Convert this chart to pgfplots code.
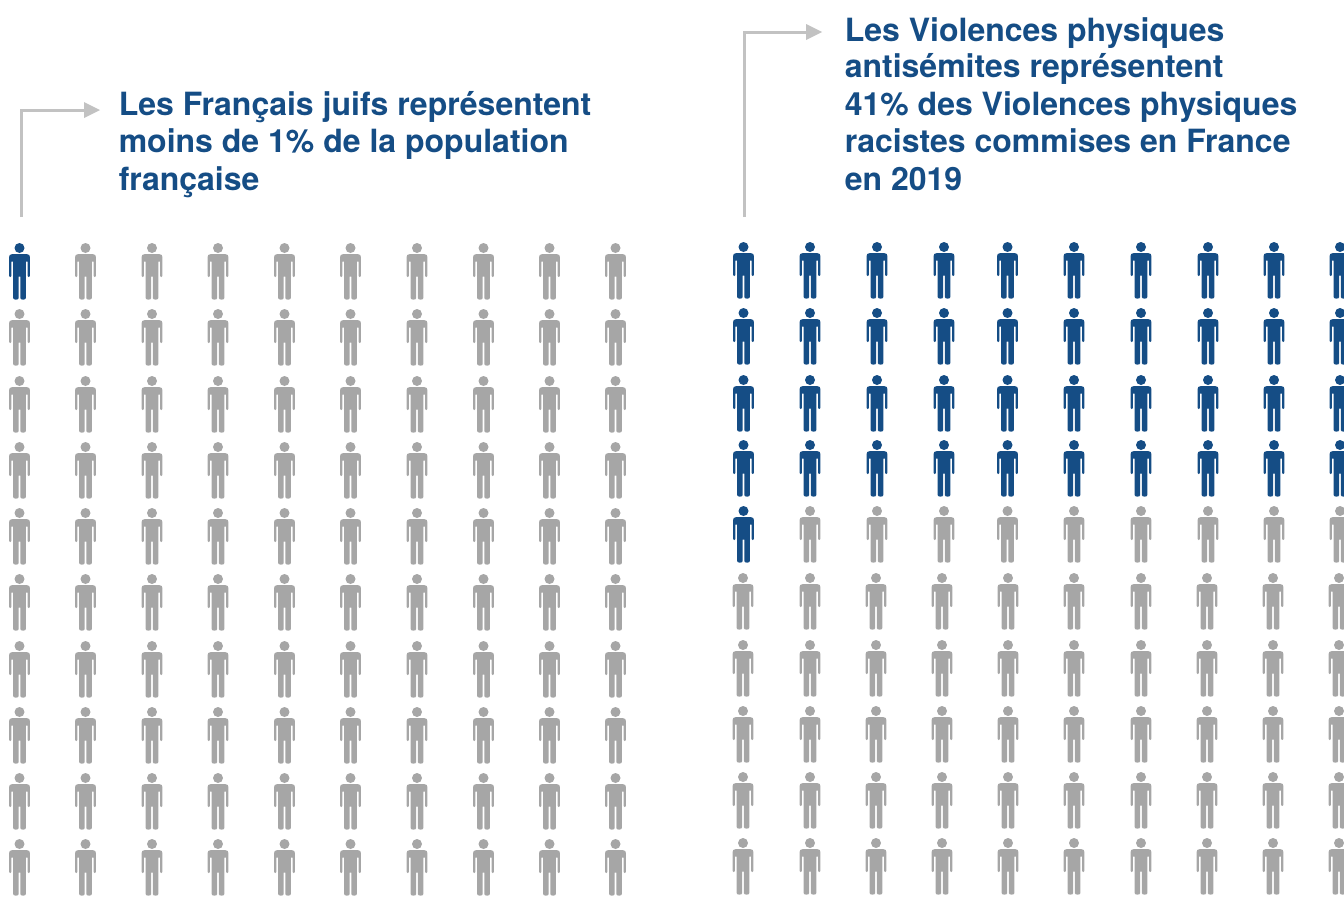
\documentclass[border=0pt]{standalone}
\usepackage{fontspec}
\setmainfont{TeX Gyre Heros}
\usepackage{pgfplots}
\pgfplotsset{compat=1.18}
\definecolor{accent}{HTML}{154D85}
\definecolor{crowd}{HTML}{A6A6A6}
\definecolor{pointer}{HTML}{C2C2C2}
% Standing figure; the origin is the centre of the head, lengths are in pixels
\pgfdeclareplotmark{person}{%
  \pgftransformscale{0.75}%
  \pgfpathcircle{\pgfqpoint{0pt}{0pt}}{5pt}%
  \pgfpathmoveto{\pgfqpoint{-7.6pt}{-6.2pt}}%
  \pgfpathlineto{\pgfqpoint{7.6pt}{-6.2pt}}%
  \pgfpathcurveto{\pgfqpoint{9.4pt}{-6.2pt}}{\pgfqpoint{10.4pt}{-7.2pt}}{\pgfqpoint{10.4pt}{-9pt}}%
  \pgfpathlineto{\pgfqpoint{10.4pt}{-28pt}}%
  \pgfpathcurveto{\pgfqpoint{10.4pt}{-29.4pt}}{\pgfqpoint{8.2pt}{-29.4pt}}{\pgfqpoint{8.2pt}{-28pt}}%
  \pgfpathlineto{\pgfqpoint{8.2pt}{-13.6pt}}%
  \pgfpathlineto{\pgfqpoint{6.4pt}{-13.6pt}}%
  \pgfpathlineto{\pgfqpoint{6.4pt}{-50pt}}%
  \pgfpathcurveto{\pgfqpoint{6.4pt}{-52.2pt}}{\pgfqpoint{0.8pt}{-52.2pt}}{\pgfqpoint{0.8pt}{-50pt}}%
  \pgfpathlineto{\pgfqpoint{0.8pt}{-28.5pt}}%
  \pgfpathlineto{\pgfqpoint{-0.8pt}{-28.5pt}}%
  \pgfpathlineto{\pgfqpoint{-0.8pt}{-50pt}}%
  \pgfpathcurveto{\pgfqpoint{-0.8pt}{-52.2pt}}{\pgfqpoint{-6.4pt}{-52.2pt}}{\pgfqpoint{-6.4pt}{-50pt}}%
  \pgfpathlineto{\pgfqpoint{-6.4pt}{-13.6pt}}%
  \pgfpathlineto{\pgfqpoint{-8.2pt}{-13.6pt}}%
  \pgfpathlineto{\pgfqpoint{-8.2pt}{-28pt}}%
  \pgfpathcurveto{\pgfqpoint{-8.2pt}{-29.4pt}}{\pgfqpoint{-10.4pt}{-29.4pt}}{\pgfqpoint{-10.4pt}{-28pt}}%
  \pgfpathlineto{\pgfqpoint{-10.4pt}{-9pt}}%
  \pgfpathcurveto{\pgfqpoint{-10.4pt}{-7.2pt}}{\pgfqpoint{-9.4pt}{-6.2pt}}{\pgfqpoint{-7.6pt}{-6.2pt}}%
  \pgfpathclose
  \pgfusepathqfill
}
\newcommand{\captionline}[3]{\node[anchor=base west,inner sep=0pt,text=accent,font=\fontsize{24}{28}\selectfont\bfseries] at (axis cs:#1,#2) {#3};}
\begin{document}
\begin{tikzpicture}
\useasboundingbox (0,0) rectangle (1008pt,672pt);
\begin{axis}[
  at={(0,0)},anchor=south west,
  width=1008pt,height=672pt,scale only axis,
  hide axis,
  xmin=0,xmax=1344,ymin=0,ymax=896,y dir=reverse,
  clip marker paths=true,
  every axis plot/.append style={only marks,mark=person},
]
% Left panel: 1 figure in 100
\addplot[mark options={fill=accent,draw=none},color=accent] coordinates {(19.5,248)};
\addplot[mark options={fill=crowd,draw=none},color=crowd] coordinates {
(85.5,248)(152,248)(218,248)(284.5,248)(350.5,248)(417,248)(483.5,248)(549.5,248)(615.5,248)
(19.5,314)(85.5,314)(152,314)(218,314)(284.5,314)(350.5,314)(417,314)(483.5,314)(549.5,314)(615.5,314)
(19.5,381)(85.5,381)(152,381)(218,381)(284.5,381)(350.5,381)(417,381)(483.5,381)(549.5,381)(615.5,381)
(19.5,447)(85.5,447)(152,447)(218,447)(284.5,447)(350.5,447)(417,447)(483.5,447)(549.5,447)(615.5,447)
(19.5,513)(85.5,513)(152,513)(218,513)(284.5,513)(350.5,513)(417,513)(483.5,513)(549.5,513)(615.5,513)
(19.5,579)(85.5,579)(152,579)(218,579)(284.5,579)(350.5,579)(417,579)(483.5,579)(549.5,579)(615.5,579)
(19.5,646)(85.5,646)(152,646)(218,646)(284.5,646)(350.5,646)(417,646)(483.5,646)(549.5,646)(615.5,646)
(19.5,712)(85.5,712)(152,712)(218,712)(284.5,712)(350.5,712)(417,712)(483.5,712)(549.5,712)(615.5,712)
(19.5,778)(85.5,778)(152,778)(218,778)(284.5,778)(350.5,778)(417,778)(483.5,778)(549.5,778)(615.5,778)
(19.5,844)(85.5,844)(152,844)(218,844)(284.5,844)(350.5,844)(417,844)(483.5,844)(549.5,844)(615.5,844)
};
% Right panel: 41 figures in 100
\addplot[mark options={fill=accent,draw=none},color=accent] coordinates {
(743.5,247)(810,247)(877,247)(944,247)(1007.5,247)(1074,247)(1141,247)(1208,247)(1274,247)(1340,247)
(743.5,313)(810,313)(877,313)(944,313)(1007.5,313)(1074,313)(1141,313)(1208,313)(1274,313)(1340,313)
(743.5,380)(810,380)(877,380)(944,380)(1007.5,380)(1074,380)(1141,380)(1208,380)(1274,380)(1340,380)
(743.5,445)(810,445)(877,445)(944,445)(1007.5,445)(1074,445)(1141,445)(1208,445)(1274,445)(1340,445)
(743.5,511)
};
\addplot[mark options={fill=crowd,draw=none},color=crowd] coordinates {
(810,511)(877,511)(944,511)(1007.5,511)(1074,511)(1141,511)(1208,511)(1274,511)(1340,511)
(743,578)(810,578)(876,578)(942,578)(1008,578)(1074,578)(1141,578)(1207,578)(1273,578)(1339,578)
(743,645)(810,645)(876,645)(942,645)(1008,645)(1074,645)(1141,645)(1207,645)(1273,645)(1339,645)
(743,711)(810,711)(876,711)(942,711)(1008,711)(1074,711)(1141,711)(1207,711)(1273,711)(1339,711)
(743,777)(810,777)(876,777)(942,777)(1008,777)(1074,777)(1141,777)(1207,777)(1273,777)(1339,777)
(743,843)(810,843)(876,843)(942,843)(1008,843)(1074,843)(1141,843)(1207,843)(1273,843)(1339,843)
};
% Pointers from each panel to its caption
\draw[pointer,line width=2.25pt] (axis cs:21,217) -- (axis cs:21,110) -- (axis cs:88,110);
\fill[pointer] (axis cs:84,102) -- (axis cs:100,110) -- (axis cs:84,118) -- cycle;
\draw[pointer,line width=2.25pt] (axis cs:744,217) -- (axis cs:744,32) -- (axis cs:810,32);
\fill[pointer] (axis cs:806,24) -- (axis cs:822,32) -- (axis cs:806,40) -- cycle;
% Captions
\captionline{118.5}{115}{Les Français juifs représentent}
\captionline{118.5}{152}{moins de 1\% de la population}
\captionline{118.5}{190}{française}
\captionline{844.5}{41}{Les Violences physiques}
\captionline{844.5}{77}{antisémites représentent}
\captionline{844.5}{115}{41\% des Violences physiques}
\captionline{844.5}{152}{racistes commises en France}
\captionline{844.5}{190}{en 2019}
\end{axis}
\end{tikzpicture}
\end{document}
